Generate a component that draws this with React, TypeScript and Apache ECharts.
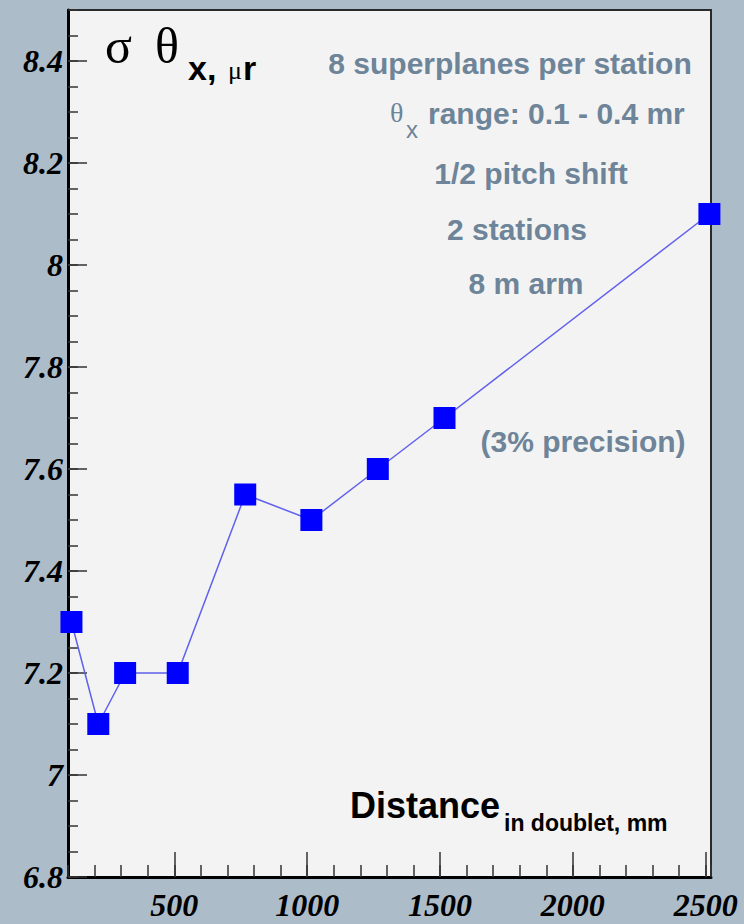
import React, { useEffect, useRef } from "react";
import * as echarts from "echarts";

// Angular resolution vs. distance between the planes of a doublet
const distanceMm = [113, 214, 315, 513, 767, 1016, 1266, 1517, 2514];
const sigmaThetaX = [7.3, 7.1, 7.2, 7.2, 7.55, 7.5, 7.6, 7.7, 8.1];

const xMajorTicks = [500, 1000, 1500, 2000, 2500];
const yMajorTicks = [6.8, 7, 7.2, 7.4, 7.6, 7.8, 8, 8.2, 8.4];

const notes = [
  "8 superplanes per station",
  "1/2 pitch shift",
  "2 stations",
  "8 m arm",
  "(3% precision)",
];
const rangeNote = "range: 0.1 - 0.4 mr";

const NOTE_COLOR = "#6d8499";
const SANS = "'Liberation Sans', Arial, sans-serif";
const SERIF = "'Liberation Serif', 'Times New Roman', serif";

function txt(
  text: string,
  x: number,
  y: number,
  opts: {
    size: number;
    family?: string;
    weight?: string;
    italic?: boolean;
    color?: string;
    align?: string;
  }
) {
  const align = opts.align || "left";
  return {
    type: "text",
    x,
    y,
    z: 100,
    style: {
      text,
      fontSize: opts.size,
      fontFamily: opts.family || SANS,
      fontWeight: opts.weight || "normal",
      fontStyle: opts.italic ? "italic" : "normal",
      fill: opts.color || "#000",
      align,
      textAlign: align,
      verticalAlign: "middle",
      textVerticalAlign: "middle",
    },
  };
}

export default function App() {
  const ref = useRef<HTMLDivElement>(null);

  useEffect(() => {
    document.body.style.margin = "0";
    document.body.style.overflow = "hidden";
    if (!ref.current) return;
    const chart = echarts.init(ref.current, undefined, { renderer: "svg" });

    const tickLabel = {
      fontFamily: SERIF,
      fontWeight: "bold",
      fontStyle: "italic",
      fontSize: 32,
      color: "#000",
    };

    const xRange = { min: 100, max: 2520 };
    const yRange = { min: 6.8, max: 8.5 };

    chart.setOption({
      animation: false,
      backgroundColor: "#adbcc9",
      grid: {
        left: 68,
        right: 33,
        top: 10,
        bottom: 47,
        show: true,
        backgroundColor: "#f3f3f3",
        borderColor: "#2a2a2a",
        borderWidth: 2,
      },
      xAxis: [
        {
          // minor ticks every 100 mm
          type: "value",
          position: "bottom",
          ...xRange,
          interval: 100,
          axisLine: { show: true, lineStyle: { color: "#000", width: 3 } },
          axisTick: {
            show: true,
            inside: true,
            length: 12,
            lineStyle: { color: "#333", width: 1.5 },
          },
          axisLabel: { show: false },
          splitLine: { show: false },
        },
        {
          // major ticks with labels
          type: "value",
          position: "bottom",
          offset: 0,
          ...xRange,
          axisLine: { show: false },
          axisTick: {
            show: true,
            inside: true,
            length: 25,
            customValues: xMajorTicks,
            lineStyle: { color: "#333", width: 1.5 },
          },
          axisLabel: {
            show: true,
            customValues: xMajorTicks,
            margin: 12,
            formatter: (v: number) => String(Math.round(v)),
            ...tickLabel,
          },
          splitLine: { show: false },
        },
      ],
      yAxis: [
        {
          type: "value",
          position: "left",
          ...yRange,
          interval: 0.05,
          axisLine: { show: true, lineStyle: { color: "#000", width: 3 } },
          axisTick: {
            show: true,
            inside: true,
            length: 10,
            lineStyle: { color: "#333", width: 1.5 },
          },
          axisLabel: { show: false },
          splitLine: { show: false },
        },
        {
          type: "value",
          position: "left",
          offset: 0,
          ...yRange,
          axisLine: { show: false },
          axisTick: {
            show: true,
            inside: true,
            length: 19,
            customValues: yMajorTicks,
            lineStyle: { color: "#333", width: 1.5 },
          },
          axisLabel: {
            show: true,
            customValues: yMajorTicks,
            margin: 5,
            formatter: (v: number) => String(Math.round(v * 10) / 10),
            ...tickLabel,
          },
          splitLine: { show: false },
        },
      ],
      series: [
        {
          type: "line",
          xAxisIndex: 0,
          yAxisIndex: 0,
          data: distanceMm.map((d, i) => [d, sigmaThetaX[i]]),
          symbol: "rect",
          symbolSize: 22,
          clip: false,
          z: 10,
          itemStyle: { color: "#0000ff" },
          lineStyle: { color: "#6060ee", width: 1.5 },
        },
      ],
      graphic: [
        // y-axis title: sigma theta_{x, mu r}
        txt("σ", 105, 46, { size: 50, family: SERIF }),
        txt("θ", 155, 46, { size: 50, family: SERIF }),
        txt("x,", 188, 68, { size: 34, weight: "bold" }),
        txt("μ", 228, 70, { size: 26, family: SERIF }),
        txt("r", 243, 68, { size: 34, weight: "bold" }),
        // x-axis title
        txt("Distance", 350, 805, { size: 36, weight: "bold" }),
        txt("in doublet, mm", 504, 823, { size: 23, weight: "bold" }),
        // run conditions
        txt(notes[0], 510, 63, { size: 30, weight: "bold", color: NOTE_COLOR, align: "center" }),
        txt("θ", 390, 112, { size: 28, family: SERIF, color: NOTE_COLOR }),
        txt("x", 406, 129, { size: 24, color: NOTE_COLOR }),
        txt(rangeNote, 428, 113, { size: 30, weight: "bold", color: NOTE_COLOR }),
        txt(notes[1], 531, 173, { size: 30, weight: "bold", color: NOTE_COLOR, align: "center" }),
        txt(notes[2], 517, 229, { size: 30, weight: "bold", color: NOTE_COLOR, align: "center" }),
        txt(notes[3], 526, 283, { size: 30, weight: "bold", color: NOTE_COLOR, align: "center" }),
        txt(notes[4], 583, 441, { size: 30, weight: "bold", color: NOTE_COLOR, align: "center" }),
      ],
    });

    return () => chart.dispose();
  }, []);

  return <div ref={ref} style={{ width: 744, height: 924 }} />;
}
